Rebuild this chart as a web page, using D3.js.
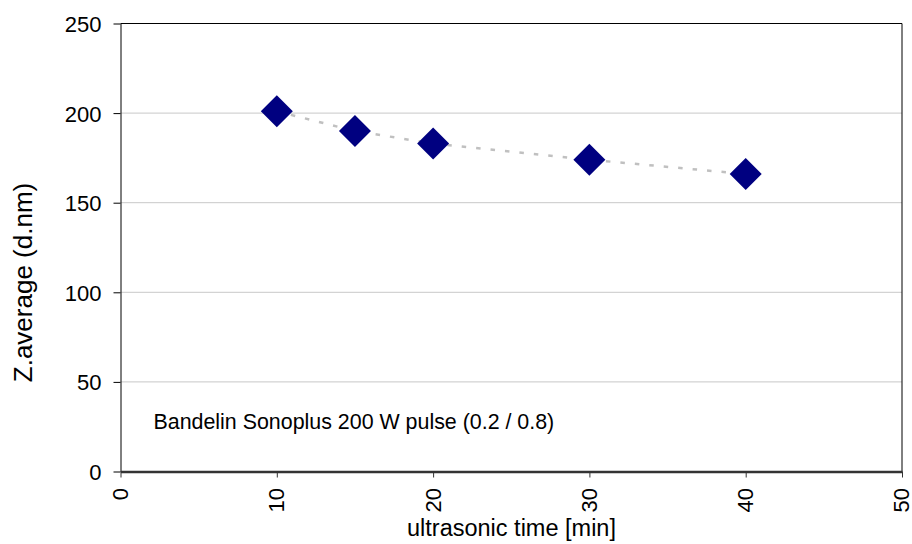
<!DOCTYPE html>
<html>
<head>
<meta charset="utf-8">
<script src="https://cdn.jsdelivr.net/npm/d3@7"></script>
<style>
  html, body { margin: 0; padding: 0; background: #fff; }
  text { font-family: "Liberation Sans", Arial, sans-serif; fill: #000; }
</style>
</head>
<body>
<svg id="chart" width="912" height="544"></svg>
<script>
const times = [10, 15, 20, 30, 40];
const zAverage = [201, 190, 183, 174, 166];
const xTicks = [0, 10, 20, 30, 40, 50];
const yTicks = [0, 50, 100, 150, 200, 250];
const xTitle = "ultrasonic time [min]";
const yTitle = "Z.average (d.nm)";
const note = "Bandelin Sonoplus 200 W pulse (0.2 / 0.8)";

const svg = d3.select("#chart");
const L = 120.5, R = 902, T = 23.5, B = 471.5;

const x = d3.scaleLinear().domain([0, 50]).range([L, R]);
const y = d3.scaleLinear().domain([0, 250]).range([B, T]);

// gridlines
svg.append("g").selectAll("line").data(yTicks.filter(d => d > 0 && d < 250)).join("line")
  .attr("x1", L).attr("x2", R).attr("y1", d => y(d)).attr("y2", d => y(d))
  .attr("stroke", "#c8c8c8").attr("stroke-width", 1);

// border top/right
svg.append("line").attr("x1", L).attr("x2", R).attr("y1", T).attr("y2", T).attr("stroke", "#000");
svg.append("line").attr("x1", R).attr("x2", R).attr("y1", T).attr("y2", B).attr("stroke", "#000");

// y axis
const yAxis = svg.append("g").attr("transform", `translate(${L},0)`)
  .call(d3.axisLeft(y).tickValues(yTicks).tickSize(7).tickPadding(12).tickSizeOuter(0));
yAxis.select(".domain").attr("stroke", "#000");
yAxis.selectAll(".tick line").attr("stroke", "#000");
yAxis.selectAll("text").attr("font-size", 22).attr("font-family", "Liberation Sans, Arial, sans-serif").attr("fill", "#000").attr("dy", "0.36em");

// x axis
const xAxis = svg.append("g").attr("transform", `translate(0,${B})`)
  .call(d3.axisBottom(x).tickValues(xTicks).tickSize(6).tickSizeOuter(0));
xAxis.select(".domain").attr("stroke", "#333").attr("stroke-width", 2.5);
xAxis.selectAll(".tick line").attr("stroke", "#333");
xAxis.selectAll("text")
  .attr("font-size", 22).attr("font-family", "Liberation Sans, Arial, sans-serif").attr("fill", "#000")
  .attr("transform", "rotate(-90)")
  .attr("text-anchor", "end")
  .attr("x", -16.5).attr("y", -1).attr("dy", "0.36em");

// dashed line
svg.append("path").datum(times.map((t, i) => [t, zAverage[i]]))
  .attr("d", d3.line().x(d => x(d[0])).y(d => y(d[1])))
  .attr("fill", "none").attr("stroke", "#c0c0c0").attr("stroke-width", 2.5)
  .attr("stroke-dasharray", "4.5,10");

// diamonds
svg.append("g").selectAll("path").data(times.map((t, i) => [t, zAverage[i]])).join("path")
  .attr("transform", d => `translate(${x(d[0])},${y(d[1])})`)
  .attr("d", "M0,-16L16,0L0,16L-16,0Z")
  .attr("fill", "#000080");

// annotation
svg.append("text").attr("x", 153.5).attr("y", 429).attr("font-size", 21.4).text(note);

// axis titles
svg.append("text").attr("x", 511.5).attr("y", 536).attr("text-anchor", "middle")
  .attr("font-size", 23.5).text(xTitle);
svg.append("text").attr("transform", "translate(32,282.5) rotate(-90)").attr("text-anchor", "middle")
  .attr("font-size", 26).text(yTitle);
</script>
</body>
</html>
